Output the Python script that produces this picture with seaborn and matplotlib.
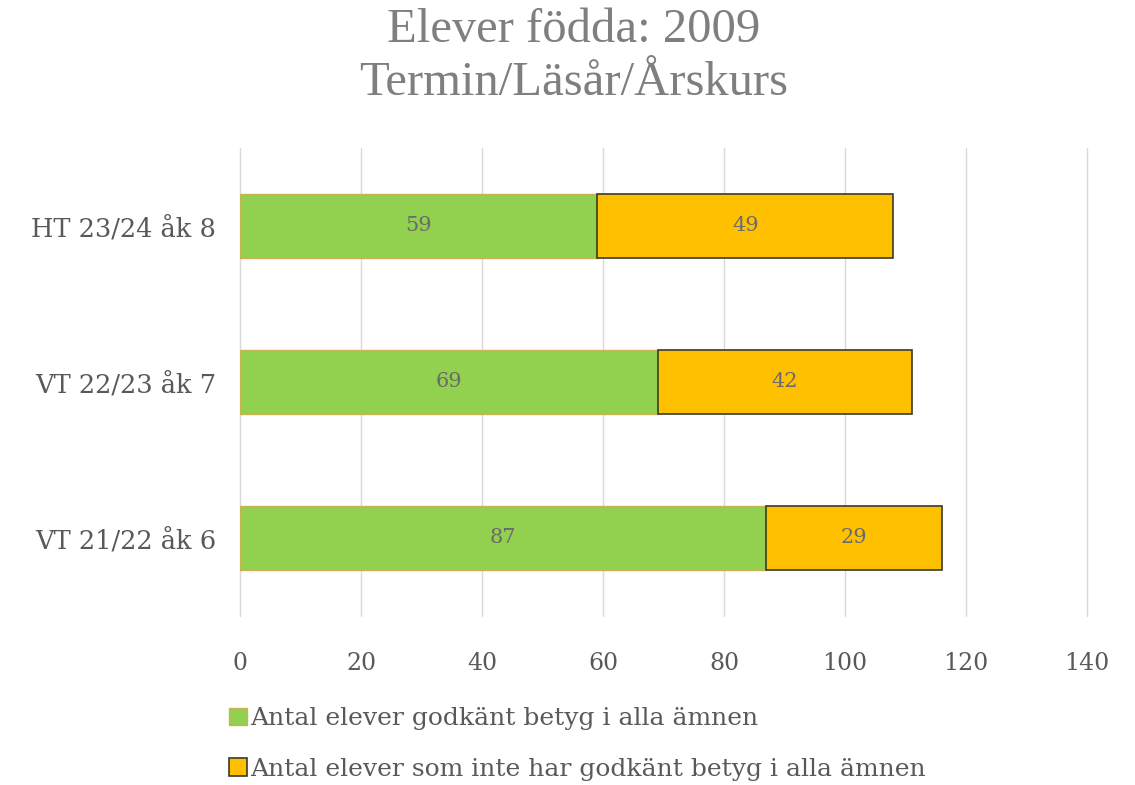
import numpy as np
import pandas as pd
import matplotlib
matplotlib.use('Agg')
import matplotlib.pyplot as plt
from matplotlib.patches import Patch
import seaborn as sns

# ==========================================
# 資料
# ==========================================
categories = ['HT 23/24 åk 8', 'VT 22/23 åk 7', 'VT 21/22 åk 6']
godkant = [59, 69, 87]
ej_godkant = [49, 42, 29]
x_ticks = [0, 20, 40, 60, 80, 100, 120, 140]

label_godkant = 'Antal elever godkänt betyg i alla ämnen'
label_ej = 'Antal elever som inte har godkänt betyg i alla ämnen'
title = 'Elever födda: 2009\nTermin/Läsår/Årskurs'

GREEN = '#92D050'
GOLD = '#FFC000'
TEXT = '#595959'
SMALL_FONT = ['DejaVu Serif']

sns.set_theme(style='white')
plt.rcParams['font.family'] = ['Liberation Serif', 'DejaVu Serif']

df = pd.DataFrame({'kat': categories, 'godkant': godkant, 'ej': ej_godkant})

fig = plt.figure(figsize=(11.35, 7.85), dpi=100)
ax = fig.add_axes([0.2115, 0.2153, 0.7463, 0.5962])

sns.barplot(data=df, x='godkant', y='kat', orient='h', color=GREEN, width=0.41,
            edgecolor='#C8B450', linewidth=1.0, saturation=1, ax=ax, legend=False)
ax.barh(df['kat'], df['ej'], left=df['godkant'], height=0.41, color=GOLD,
        edgecolor='#3a3a2a', linewidth=1.2)

for cont in ax.containers:
    ax.bar_label(cont, label_type='center', color='#6b6b6b', fontsize=15, family=SMALL_FONT)

ax.set_xlim(0, 140)
ax.set_ylim(2.5, -0.5)
ax.set_xticks(x_ticks)
ax.xaxis.grid(True, color='#D9D9D9', linewidth=1)
for gl in ax.get_xgridlines():
    gl.set_clip_on(False)
ax.set_axisbelow(True)
for s in ax.spines.values():
    s.set_visible(False)
ax.set_xlabel('')
ax.set_ylabel('')
ax.tick_params(axis='x', colors=TEXT, labelsize=17, pad=26, length=0)
ax.tick_params(axis='y', colors=TEXT, labelsize=18.5, pad=17, length=0)
for lab in ax.get_xticklabels() + ax.get_yticklabels():
    lab.set_family(SMALL_FONT)

fig.suptitle(title, x=0.505, y=0.99, fontsize=35, color='#7F7F7F', linespacing=1.28)

handles = [Patch(facecolor=GREEN, edgecolor='#C8B450', linewidth=1.0),
           Patch(facecolor=GOLD, edgecolor='#3a3a2a', linewidth=1.2)]
fig.legend(handles, [label_godkant, label_ej], loc='upper left', bbox_to_anchor=(0.202, 0.099),
           frameon=False, prop={'family': SMALL_FONT, 'size': 18}, labelcolor=TEXT,
           handlelength=0.7, handleheight=0.7, handletextpad=0.15, labelspacing=1.1,
           borderaxespad=0, borderpad=0)

fig.savefig('out.png', dpi=100)
